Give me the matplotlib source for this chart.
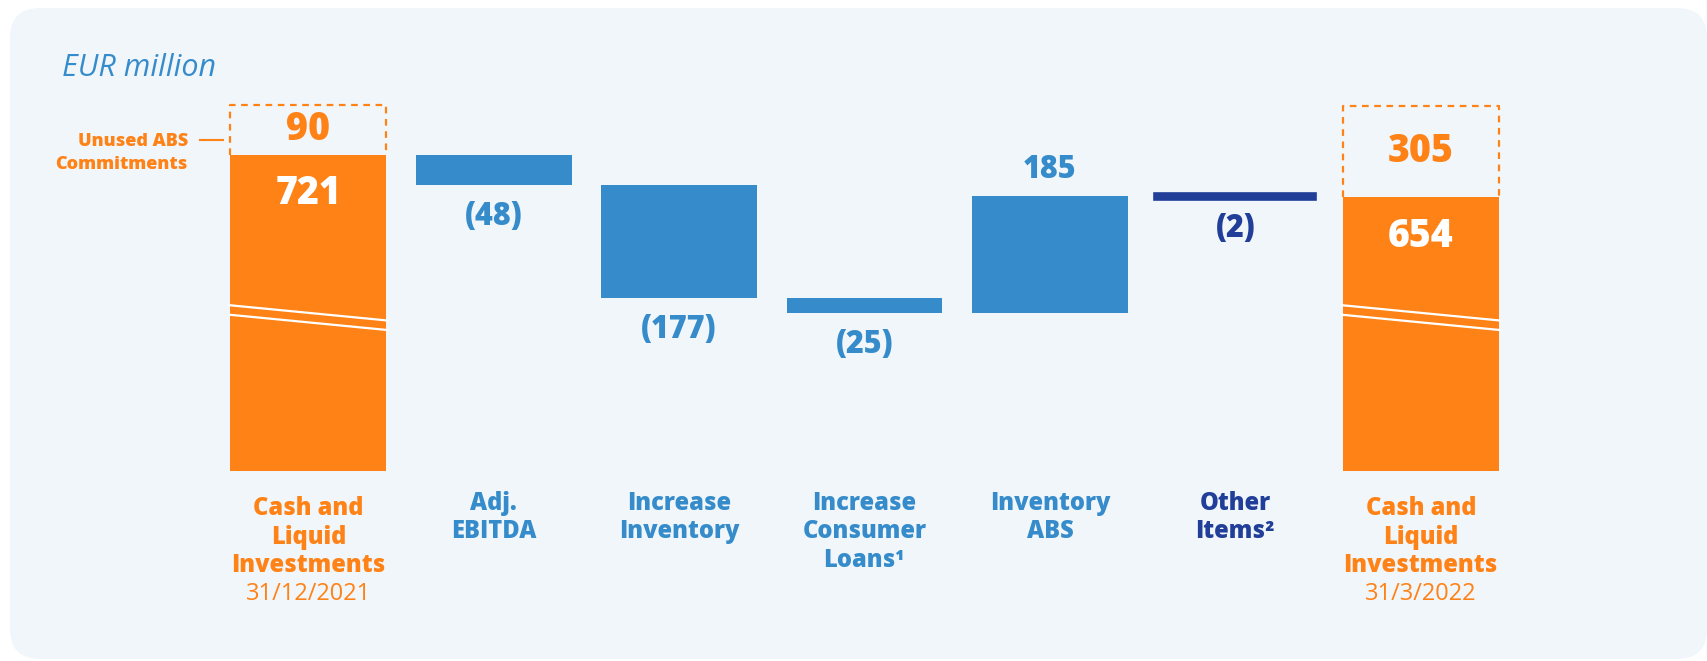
import matplotlib.pyplot as plt
import numpy as np
from matplotlib.patches import FancyBboxPatch

# values, EUR million
start_value = 721
start_unused = 90
end_value = 654
end_unused = 305
step_labels = ['Adj.\nEBITDA', 'Increase\nInventory', 'Increase\nConsumer\nLoans¹',
               'Inventory\nABS', 'Other\nItems²']
deltas = [-48, -177, -25, 185, -2]
total_label = 'Cash and\nLiquid\nInvestments'
dates = ['31/12/2021', '31/3/2022']

ORANGE = '#FF8217'
BLUE = '#368CCA'
NAVY = '#213F99'
PANEL = '#F1F6FB'
step_colors = [BLUE, BLUE, BLUE, BLUE, NAVY]
HEAVY = 'heavy'

plt.rcParams['font.family'] = ['Open Sans', 'DejaVu Sans']

W, H = 1708, 661
fig = plt.figure(figsize=(W / 100, H / 100), dpi=100)
fig.patch.set_facecolor('white')

# background panel, in pixel units
bg = fig.add_axes([0, 0, 1, 1])
bg.set_xlim(0, W)
bg.set_ylim(H, 0)
bg.axis('off')
bg.add_patch(FancyBboxPatch((10, 8), 1697, 651, boxstyle='round,pad=0,rounding_size=30',
                            fc=PANEL, ec='none'))
bg.text(62, 76, 'EUR million', fontsize=22, style='italic', color=BLUE,
        ha='left', va='baseline')

# main axes (broken value axis, bars start below the visible area)
ax_bottom = 471
ax = fig.add_axes([215.6 / W, 1 - ax_bottom / H, (1513.4 - 215.6) / W, ax_bottom / H])
ax.set_xlim(-0.5, 6.5)
ax.set_ylim(223, 964.5)
ax.axis('off')
ax.patch.set_alpha(0)

n = len(deltas)
x = np.arange(n + 2)
bw = 0.84
levels = start_value + np.concatenate([[0], np.cumsum(deltas)])
lo = np.minimum(levels[:-1], levels[1:])

ax.bar([x[0], x[-1]], [start_value, end_value], width=bw, color=ORANGE, zorder=2)
lws = [5.5 if abs(d) < 5 else 0 for d in deltas]
ax.bar(x[1:-1], np.abs(deltas), bottom=lo, width=bw, color=step_colors,
       edgecolor=step_colors, linewidth=lws, zorder=2)


def stack(xi, lines, first_pt, step_pt, **kw):
    for k, line in enumerate(lines):
        ax.annotate(line, (xi, 0), xycoords=('data', 'axes fraction'),
                    xytext=(0, first_pt - k * step_pt), textcoords='offset points',
                    ha='center', va='baseline', annotation_clip=False, **kw)


# break marks on the two totals
for xi in [x[0], x[-1]]:
    l, r = xi - bw / 2, xi + bw / 2
    for off in [0, -15]:
        ax.plot([l - 0.012, r + 0.012], [484 + off + 0.2, 460 + off - 0.2],
                color='white', lw=1.6, zorder=3, solid_capstyle='butt')

# unused ABS commitments (dashed, drawn compressed as in the original)
for xi, base, unused in [(x[0], start_value, start_unused), (x[-1], end_value, end_unused)]:
    h = 8.2 * np.sqrt(unused)
    l, r = xi - bw / 2, xi + bw / 2
    ax.plot([l, l, r, r], [base, base + h, base + h, base], color=ORANGE, lw=1.6,
            ls=(0, (3, 2.5)), zorder=1)
    ax.text(xi, base + h / 2, f'{unused}', ha='center', va='center', fontsize=27,
            fontweight=HEAVY, color=ORANGE)
    if xi == 0:
        yl = base + 0.3 * h
        ax.plot([l - 0.165, l - 0.038], [yl, yl], color=ORANGE, lw=1.5, clip_on=False)
        for k, line in enumerate(['Unused ABS', 'Commitments']):
            ax.annotate(line, (l - 0.23, yl), xytext=(0, -4.5 - k * 16.8),
                        textcoords='offset points', ha='right', va='baseline',
                        fontsize=13, fontweight=HEAVY, color=ORANGE, annotation_clip=False)

# values inside the totals
for xi, v in [(x[0], start_value), (x[-1], end_value)]:
    ax.annotate(f'{v}', (xi, v), xytext=(0, -28), textcoords='offset points',
                ha='center', va='center', fontsize=27, fontweight=HEAVY, color='white')

# step values
for i, d in enumerate(deltas):
    if d < 0:
        txt, y, off = f'({abs(d)})', lo[i], -23
    else:
        txt, y, off = f'{d}', lo[i] + d, 18.5
    ax.annotate(txt, (x[i + 1], y), xytext=(0, off), textcoords='offset points',
                ha='center', va='center', fontsize=22, fontweight=HEAVY, color=step_colors[i])

# category labels
step_pt = 20.4
for xi, date in [(x[0], dates[0]), (x[-1], dates[1])]:
    stack(xi, total_label.split('\n'), -32, step_pt, fontsize=17, fontweight=HEAVY, color=ORANGE)
    stack(xi, [date], -32 - 3 * step_pt, step_pt, fontsize=17, color=ORANGE)
for i, lab in enumerate(step_labels):
    stack(x[i + 1], lab.split('\n'), -28.1, step_pt, fontsize=17, fontweight=HEAVY,
          color=step_colors[i])

fig.savefig('out.png', dpi=100, facecolor=fig.get_facecolor())
